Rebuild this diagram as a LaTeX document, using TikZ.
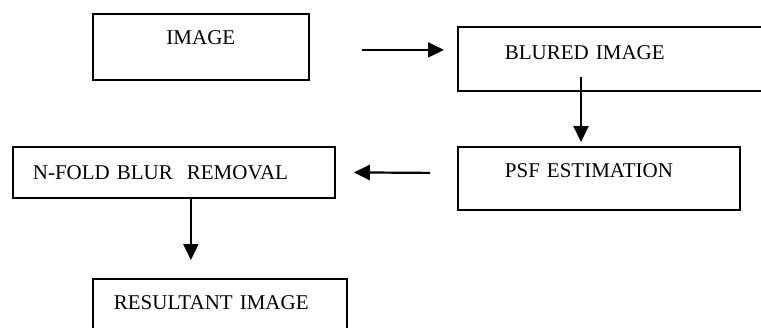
\documentclass[tikz,border=0pt]{standalone}
\usepackage{fontspec}
\setmainfont{Liberation Serif}
\usetikzlibrary{arrows.meta, positioning, calc}

\begin{document}
\begin{tikzpicture}[x=1pt, y=-1pt,
  box/.style={draw, line width=1.8pt, anchor=north west, inner ysep=0pt, align=left, font=\fontsize{21}{25}\selectfont},
  arrow/.style={-{Triangle[length=16pt, width=15pt]}, line width=2.2pt}
]
  \useasboundingbox (0,0) rectangle (761,327);
  \clip (0,0) rectangle (761,327);

  \node[box, align=center, inner xsep=0pt, text width=216pt, text height=31pt, text depth=35pt] (img) at (92,13) {IMAGE};

  \node[box, inner xsep=47pt, text width=226pt, text height=33pt, text depth=31pt] (blur) at (457,26) {BLURED IMAGE};

  \node[box, inner xsep=47pt, text width=188pt, text height=31pt, text depth=32pt] (psf) at (457,146) {PSF ESTIMATION};

  \node[box, inner xsep=20pt, text width=282pt, text height=33pt, text depth=18pt] (fold) at (12,146) {N-FOLD BLUR\ \ REMOVAL};

  \node[box, inner xsep=21pt, text width=212pt, text height=31pt, text depth=36pt] (result) at (92,278) {RESULTANT IMAGE};

  \draw[arrow] ([xshift=52pt, yshift=-3pt]img.east) -- ([xshift=-13pt, yshift=9pt]blur.west);
  \draw[arrow] ([xshift=124pt, yshift=15pt]blur.south west) -- ([xshift=124pt, yshift=4pt]psf.north west);
  \draw[arrow] ([xshift=-27pt, yshift=5.5pt]psf.west) -- ([xshift=18pt]fold.east);
  \draw[arrow] ([xshift=17pt]fold.south) -- ([xshift=-29pt, yshift=18pt]result.north);
\end{tikzpicture}
\end{document}
